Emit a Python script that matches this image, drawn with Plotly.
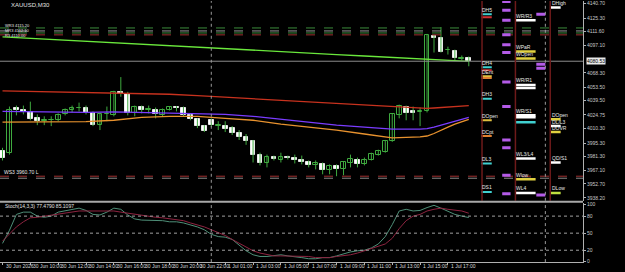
import plotly.graph_objects as go

# ---------------- data ----------------
bar_idx = list(range(68))
opens = [3987.3, 3985.2, 4031.3, 4029.2, 4027.2, 4021.0, 4018.5, 4019.0, 4019.0, 4025.1,
         4029.2, 4031.5, 4032.3, 4026.2, 4013.9, 4025.5, 4024.1, 4048.7, 4046.6, 4026.2,
         4033.3, 4030.0, 4030.2, 4024.1, 4030.2, 4033.3, 4031.3, 4024.1, 4020.0, 4012.9,
         4019.0, 4013.5, 4012.9, 4010.8, 4005.7, 4001.6, 3997.5, 3983.2, 3974.0, 3981.1,
         3978.1, 3981.1, 3980.1, 3977.1, 3976.0, 3971.9, 3973.0, 3966.8, 3970.9, 3967.8,
         3974.0, 3978.1, 3973.0, 3978.1, 3983.2, 3986.3, 3997.5, 4024.1, 4033.3, 4028.2,
         4027.7, 4028.2, 4107.0, 4104.9, 4092.0, 4091.6, 4083.0, 4083.4]
highs = [3990.3, 4033.3, 4034.3, 4034.3, 4038.4, 4025.1, 4023.1, 4023.1, 4026.2, 4031.3,
         4034.3, 4037.4, 4034.3, 4028.2, 4026.2, 4033.3, 4049.7, 4064.0, 4048.7, 4034.3,
         4034.3, 4034.3, 4032.3, 4031.3, 4033.8, 4033.8, 4033.3, 4026.2, 4021.0, 4014.0,
         4021.0, 4018.0, 4018.0, 4012.9, 4008.8, 4004.7, 3998.5, 3985.2, 3983.2, 3982.2,
         3985.2, 3982.2, 3983.2, 3982.2, 3977.1, 3977.1, 3975.0, 3973.0, 3973.0, 3976.0,
         3983.2, 3980.1, 3980.1, 3985.2, 3988.3, 3998.5, 4026.2, 4035.3, 4034.3, 4033.3,
         4032.3, 4109.0, 4108.0, 4116.2, 4095.7, 4092.6, 4086.5, 4085.5]
lows = [3977.1, 3983.2, 4024.1, 4025.1, 4019.0, 4013.9, 4013.9, 4012.9, 4018.0, 4024.1,
        4027.2, 4028.2, 4025.1, 4012.9, 4008.8, 4018.0, 4023.1, 4043.5, 4024.1, 4023.1,
        4026.2, 4026.2, 4021.0, 4023.1, 4029.2, 4028.2, 4023.1, 4019.0, 4010.8, 4006.7,
        4012.0, 4008.8, 4006.7, 4003.6, 3998.5, 3993.4, 3975.0, 3972.0, 3969.9, 3977.1,
        3975.0, 3978.1, 3974.0, 3973.0, 3969.9, 3967.8, 3962.7, 3962.7, 3960.7, 3961.7,
        3969.9, 3969.9, 3972.0, 3977.1, 3982.2, 3985.2, 3996.5, 4021.0, 4019.0, 4019.0,
        4012.9, 4027.2, 4089.6, 4089.6, 4087.5, 4081.4, 4081.4, 4075.3]
closes = [3980.1, 4029.2, 4029.2, 4027.2, 4020.0, 4018.0, 4019.0, 4019.3, 4024.1, 4029.2,
          4031.3, 4032.0, 4026.2, 4013.9, 4025.1, 4026.0, 4048.7, 4046.6, 4026.2, 4033.3,
          4029.2, 4030.4, 4025.1, 4030.2, 4033.3, 4031.3, 4024.1, 4020.0, 4012.9, 4007.7,
          4013.9, 4014.0, 4009.8, 4005.7, 4001.6, 3997.5, 3983.2, 3974.0, 3981.1, 3979.1,
          3981.1, 3980.1, 3977.1, 3976.0, 3971.9, 3974.0, 3966.8, 3970.9, 3967.8, 3975.0,
          3979.1, 3973.0, 3978.1, 3984.2, 3987.3, 3997.5, 4025.1, 4034.3, 4026.2, 4026.2,
          4028.2, 4108.0, 4104.9, 4090.6, 4092.6, 4083.4, 4083.4, 4080.53]

# moving averages (read at these bars)
ma_idx = [0, 4, 8, 12, 16, 20, 24, 28, 32, 36, 40, 44, 48, 52, 56, 60, 61, 62, 63, 64, 65, 66, 67]
ma_green = [4106.0, 4104.4, 4102.9, 4101.3, 4099.8, 4098.3, 4096.7, 4095.2, 4093.7, 4092.1, 4090.6, 4089.1,
            4087.5, 4086.0, 4084.5, 4082.9, 4082.4, 4081.9, 4081.4, 4081.4, 4080.9, 4080.4, 4080.4]
ma_red = [4049.7, 4049.2, 4048.7, 4048.1, 4047.6, 4046.6, 4046.1, 4044.6, 4043.0, 4041.5, 4039.5, 4037.9,
          4036.4, 4034.3, 4032.8, 4031.3, 4031.3, 4031.8, 4032.3, 4032.8, 4033.3, 4033.8, 4034.3]
ma_purple = [4028.2, 4027.7, 4027.2, 4027.2, 4027.7, 4027.2, 4026.7, 4026.2, 4025.1, 4023.1, 4020.0, 4017.0,
             4013.9, 4011.8, 4009.8, 4009.8, 4010.3, 4011.8, 4013.9, 4015.9, 4018.0, 4020.0, 4022.1]
ma_orange = [4017.0, 4017.0, 4017.0, 4017.5, 4019.0, 4022.1, 4023.1, 4023.1, 4021.0, 4019.0, 4014.9, 4011.8,
             4008.8, 4004.7, 4000.6, 4001.6, 4002.6, 4005.2, 4008.8, 4011.8, 4014.9, 4017.5, 4020.0]

# stochastic (14,3,3)
stoch_main = [32, 55, 83, 87, 87, 80, 78, 80, 87, 89, 92, 94, 90, 83, 82, 87, 94, 92, 82, 75,
              73, 73, 72, 72, 70, 70, 68, 65, 61, 56, 48, 44, 43, 39, 29, 19, 12, 9, 9, 10,
              12, 10, 9, 7, 5, 5, 7, 7, 10, 14, 17, 19, 20, 24, 31, 44, 65, 89, 92, 89,
              90, 95, 99, 94, 89, 83, 80, 77.479]
stoch_signal = [36, 48, 61, 70, 77, 78, 80, 82, 83, 85, 87, 89, 89, 89, 89, 89, 89, 87, 85, 83,
                82, 80, 78, 77, 75, 73, 72, 68, 65, 61, 56, 51, 46, 39, 32, 26, 19, 15, 12, 10,
                10, 10, 10, 9, 9, 7, 7, 7, 9, 10, 12, 15, 19, 22, 26, 31, 41, 58, 72, 80,
                83, 89, 92, 94, 92, 90, 89, 85.1097]
stoch_levels = [80, 50, 20]
stoch_ticks = [100, 80, 50, 20, 0]

# axis labels (the 4082.70 label sits under the current-price box)
price_ticks = [4140.70, 4125.30, 4111.60, 4097.10, 4068.30, 4053.50, 4039.50,
               4024.75, 4010.30, 3995.30, 3981.30, 3967.10, 3952.70, 3938.20]
time_tick_idx = [0, 4, 8, 12, 16, 20, 24, 28, 32, 36, 40, 44, 48, 52, 56, 60, 64]
time_tick_labels = ["30 Jun 2026", "30 Jun 10:00", "30 Jun 12:00", "30 Jun 14:00", "30 Jun 16:00",
                    "30 Jun 18:00", "30 Jun 20:00", "30 Jun 22:00", "1 Jul 01:00", "1 Jul 03:00",
                    "1 Jul 05:00", "1 Jul 07:00", "1 Jul 09:00", "1 Jul 11:00", "1 Jul 13:00",
                    "1 Jul 15:00", "1 Jul 17:00"]
day_sep_idx = [30, 78]

# horizontal dashed levels
level_prices = [4115.2, 4112.1, 4110.0, 4108.0, 3960.7, 3958.6]
level_colors = ["#3c8c3c", "#9a9a9a", "#3c8c3c", "#a03030", "#a03030", "#8a8a8a"]
level_names_top = ["WR3 4115.20", "MR3 4112.10", "R3 4110.00"]
level_names_bot = ["WS3 3960.70 L"]

# pivot markers on the right
pivA_names = ["DH5", "", "DH4", "", "DEnt", "", "DH3", "DOpen", "DCpt", "DL3", "DS1"]
pivA_prices = [4129.5, 4126.4, 4074.2, 4071.2, 4065.0, 4063.0, 4041.5, 4019.0, 4002.6, 3974.0, 3944.3]
pivA_colors = ["#40d0d0", "#d03030", "#40d0d0", "#d03030", "#e0c040", "#e08030", "#40d0d0",
               "#e0c040", "#e08030", "#40d0d0", "#40d0d0"]
pivB_names = ["WR/R3", "WPaR", "WOpen", "WR/R1", "", "WR/S1", "", "", "WL3/L4", "Wlow", "WL4"]
pivB_prices = [4123.3, 4090.6, 4083.4, 4055.8, 4052.7, 4024.1, 4022.1, 4017.0, 3979.1, 3957.6, 3943.3]
pivB_colors = ["#ffffff", "#e0d040", "#e0d040", "#ffffff", "#ffffff", "#ffffff", "#ffffff",
               "#40d0d0", "#ffffff", "#e0d040", "#ffffff"]
pivC_names = ["DHigh", "DOpen", "DL/L3", "DOVR", "QD/S1", "DLow"]
pivC_prices = [4136.6, 4020.0, 4012.9, 4006.7, 3975.0, 3943.3]
pivC_colors = ["#ffffff", "#e0d040", "#ffffff", "#e0d040", "#ffffff", "#c0e040"]
purpleA_prices = [4142.8, 4133.6, 4123.3, 4108.0, 4097.8, 4089.6, 4058.9, 4033.3, 3998.5, 3990.3, 3961.7, 3942.3]
purpleB_prices = [4129.5, 4077.3, 4073.2, 3941.2]

symbol_title = "XAUUSD,M30"
stoch_title = "Stoch(14,3,3) 77.4790 85.1097"

# ---------------- figure ----------------
W, H = 625, 272
PLOT_R = 583
X_RANGE = [-0.36, 83.41]
FONT = "Liberation Sans"
GREEN = "#3faa3f"

fig = go.Figure()

# wicks
wx, wy = [], []
for i, lo, hi in zip(bar_idx, lows, highs):
    wx += [i, i, None]
    wy += [lo, hi, None]
fig.add_trace(go.Scatter(x=wx, y=wy, mode="lines", line=dict(color=GREEN, width=1),
                         hoverinfo="skip", showlegend=False))

# bodies
bull = [(i, o, c) for i, o, c in zip(bar_idx, opens, closes) if c >= o]
bear = [(i, o, c) for i, o, c in zip(bar_idx, opens, closes) if c < o]
fig.add_trace(go.Bar(x=[b[0] for b in bull], y=[max(b[2] - b[1], 0.3) for b in bull],
                     base=[b[1] for b in bull], width=0.68,
                     marker=dict(color="#000000", line=dict(color=GREEN, width=1)),
                     showlegend=False, hoverinfo="skip"))
fig.add_trace(go.Bar(x=[b[0] for b in bear], y=[b[1] - b[2] for b in bear],
                     base=[b[2] for b in bear], width=0.68,
                     marker=dict(color="#ffffff", line=dict(color="#e8e8e8", width=1)),
                     showlegend=False, hoverinfo="skip"))

# moving averages
for vals, col in [(ma_green, "#6ae83c"), (ma_red, "#c8321e"), (ma_purple, "#7a3cff"), (ma_orange, "#e8922e")]:
    fig.add_trace(go.Scatter(x=ma_idx, y=vals, mode="lines", line=dict(color=col, width=1.3),
                             hoverinfo="skip", showlegend=False))

# horizontal dashed levels
for p, c in zip(level_prices, level_colors):
    fig.add_trace(go.Scatter(x=[X_RANGE[0], X_RANGE[1]], y=[p, p], mode="lines",
                             line=dict(color=c, width=1, dash="dash"), hoverinfo="skip", showlegend=False))

# bid line
fig.add_trace(go.Scatter(x=[X_RANGE[0], X_RANGE[1]], y=[closes[-1], closes[-1]], mode="lines",
                         line=dict(color="#8c8c8c", width=1), hoverinfo="skip", showlegend=False))

# pivot marker columns
def seg_trace(prices, colors, x0, x1, width):
    for p, c in zip(prices, colors):
        fig.add_trace(go.Scatter(x=[x0, x1], y=[p, p], mode="lines", line=dict(color=c, width=width),
                                 hoverinfo="skip", showlegend=False))

seg_trace(pivA_prices, pivA_colors, 68.8, 70.3, 2)
seg_trace(pivB_prices, pivB_colors, 73.7, 76.6, 2.5)
seg_trace(pivC_prices, pivC_colors, 78.8, 80.2, 2.5)
seg_trace(purpleA_prices, ["#b45be8"] * len(purpleA_prices), 71.8, 73.0, 3)
seg_trace(purpleB_prices, ["#b45be8"] * len(purpleB_prices), 76.7, 78.0, 3)

annotations = []
def label_col(names, prices, x0):
    for n, p in zip(names, prices):
        if n:
            annotations.append(dict(x=x0, y=p, xref="x", yref="y", text=n, showarrow=False,
                                    xanchor="left", yanchor="bottom", yshift=0.5, borderpad=0,
                                    font=dict(family=FONT, size=5, color="#e8e8e8")))
label_col(pivA_names, pivA_prices, 68.8)
label_col(pivB_names, pivB_prices, 73.7)
label_col(pivC_names, pivC_prices, 78.8)

# stochastic
fig.add_trace(go.Scatter(x=bar_idx, y=stoch_main, xaxis="x2", yaxis="y2", mode="lines",
                         line=dict(color="#4f8f78", width=1), hoverinfo="skip", showlegend=False))
fig.add_trace(go.Scatter(x=bar_idx, y=stoch_signal, xaxis="x2", yaxis="y2", mode="lines",
                         line=dict(color="#8e2440", width=1), hoverinfo="skip", showlegend=False))

shapes = []
for lv in stoch_levels:
    shapes.append(dict(type="line", xref="x2", yref="y2", x0=X_RANGE[0], x1=X_RANGE[1], y0=lv, y1=lv,
                       line=dict(color="#a0a0a0", width=1, dash="dot")))
for d in day_sep_idx:
    for yr in ["y", "y2"]:
        shapes.append(dict(type="line", xref="x", yref=yr + " domain", x0=d, x1=d, y0=0, y1=1,
                           line=dict(color="#9a9a9a", width=1, dash="dot")))
# red vertical lines of the pivot panel
for xv in [68.9, 73.7, 78.7]:
    shapes.append(dict(type="line", xref="x", yref="y domain", x0=xv, x1=xv, y0=0, y1=1,
                       line=dict(color="#6e1a1a", width=1.5)))
# window separator
shapes.append(dict(type="line", xref="paper", yref="paper", x0=0, x1=PLOT_R / W,
                   y0=(H - 203) / H, y1=(H - 203) / H, line=dict(color="#a8a8a8", width=2)))

# texts
annotations.append(dict(x=9 / W, y=1 - 4 / H, xref="paper", yref="paper", text=symbol_title,
                        showarrow=False, xanchor="left", yanchor="middle",
                        font=dict(family=FONT, size=6, color="#e0e0e0")))
annotations.append(dict(x=3 / W, y=1 - 207 / H, xref="paper", yref="paper", text=stoch_title,
                        showarrow=False, xanchor="left", yanchor="middle",
                        font=dict(family=FONT, size=5, color="#e0e0e0")))
annotations.append(dict(x=0.2, y=level_prices[1], xref="x", yref="y", text="<br>".join(level_names_top),
                        showarrow=False, xanchor="left", yanchor="middle", align="left", borderpad=0,
                        font=dict(family=FONT, size=4, color="#e8e8e8")))
annotations.append(dict(x=0.1, y=level_prices[4], xref="x", yref="y", text=level_names_bot[0],
                        showarrow=False, xanchor="left", yanchor="bottom", borderpad=0,
                        font=dict(family=FONT, size=5, color="#e8e8e8")))
for ti, tl in zip(time_tick_idx, time_tick_labels):
    annotations.append(dict(x=ti, y=1 - 268 / H, xref="x", yref="paper", text=tl, showarrow=False,
                            xanchor="left", yanchor="middle", xshift=1,
                            font=dict(family=FONT, size=5, color="#d8d8d8")))
# current price box
annotations.append(dict(x=PLOT_R / W + 0.004, y=closes[-1], xref="paper", yref="y",
                        text=f"{closes[-1]:.2f}", showarrow=False, xanchor="left", yanchor="middle",
                        bgcolor="#e8e8e8", borderpad=0,
                        font=dict(family=FONT, size=5, color="#000000")))

dom_main = [(H - 202) / H, 1]
dom_sub = [(H - 264) / H, (H - 204) / H]

fig.update_layout(
    width=W, height=H, margin=dict(l=0, r=0, t=0, b=0),
    paper_bgcolor="#000000", plot_bgcolor="#000000",
    barmode="overlay", bargap=0, showlegend=False,
    xaxis=dict(domain=[0, PLOT_R / W], range=X_RANGE, anchor="y", visible=False, fixedrange=True),
    xaxis2=dict(domain=[0, PLOT_R / W], range=X_RANGE, anchor="y2", matches="x",
                showline=True, linecolor="#b0b0b0", linewidth=1, ticks="outside", ticklen=2,
                tickcolor="#b0b0b0", tickvals=time_tick_idx, showticklabels=False,
                showgrid=False, zeroline=False),
    yaxis=dict(domain=dom_main, range=[3935.1, 4143.3], side="right", anchor="x",
               tickvals=price_ticks, ticktext=[f"{v:.2f}" for v in price_ticks],
               tickfont=dict(family=FONT, size=5, color="#c8c8c8"),
               showline=True, linecolor="#b0b0b0", linewidth=1, ticks="outside", ticklen=2,
               tickcolor="#b0b0b0", showgrid=False, zeroline=False),
    yaxis2=dict(domain=dom_sub, range=[-0.87, 103.5], side="right", anchor="x2",
                tickvals=stoch_ticks, ticktext=[str(v) for v in stoch_ticks],
                tickfont=dict(family=FONT, size=5, color="#c8c8c8"),
                showline=True, linecolor="#b0b0b0", linewidth=1, ticks="outside", ticklen=2,
                tickcolor="#b0b0b0", showgrid=False, zeroline=False),
    shapes=shapes, annotations=annotations,
)

fig.write_html("out.html")
